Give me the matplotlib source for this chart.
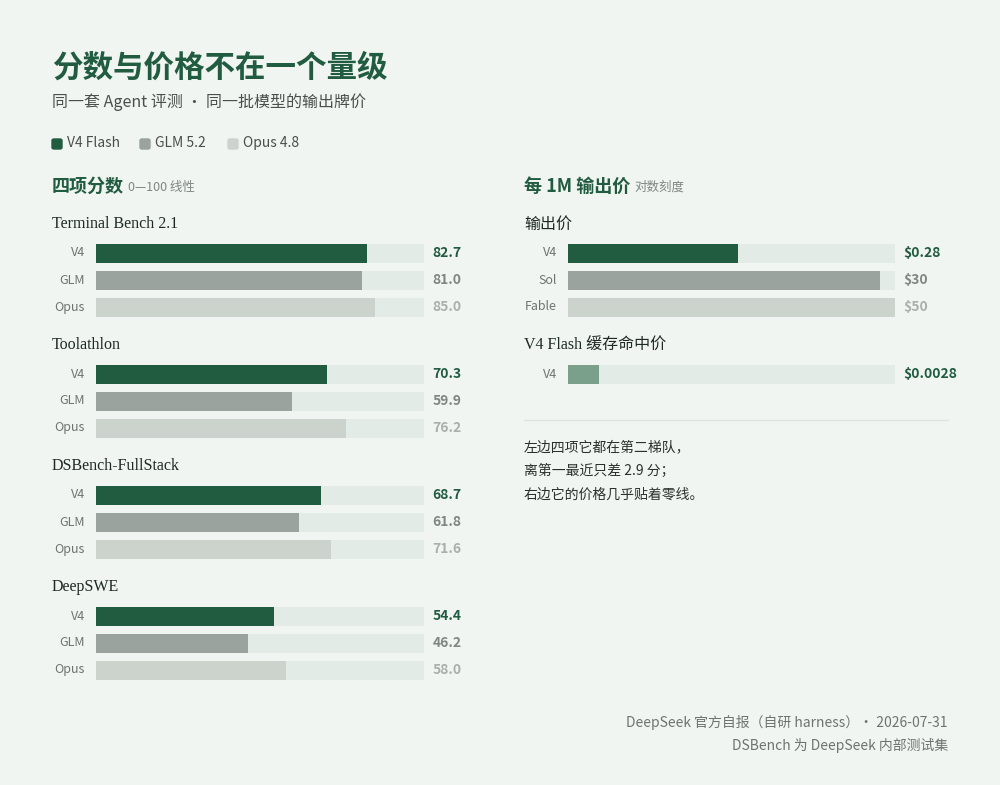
import matplotlib
matplotlib.use("Agg")
import matplotlib.pyplot as plt
import matplotlib.transforms as mtransforms
from matplotlib.patches import FancyBboxPatch

plt.rcParams['font.family'] = ['Noto Sans CJK SC', 'DejaVu Sans']

groups = ["Terminal Bench 2.1", "Toolathlon", "DSBench-FullStack", "DeepSWE"]
models = ["V4", "GLM", "Opus"]
scores = {
    "V4": [82.7, 70.3, 68.7, 54.4],
    "GLM": [81.0, 59.9, 61.8, 46.2],
    "Opus": [85.0, 76.2, 71.6, 58.0],
}
legend_names = ["V4 Flash", "GLM 5.2", "Opus 4.8"]
price_labels = ["V4", "Sol", "Fable"]
prices = [0.28, 30, 50]
price_text = ["$0.28", "$30", "$50"]
cache_label = ["V4"]
cache_price = [0.0028]
cache_text = ["$0.0028"]

BG = "#f1f5f1"
DARK = "#215c41"
GRAY = "#9aa39d"
LIGHT = "#cbd3cc"
TRACK = "#e2ebe5"
CACHE = "#7a9f8a"
colors = [DARK, GRAY, LIGHT]
valcolors = [DARK, "#7f8782", "#a9b0ab"]
SERIF = ['Liberation Serif', 'Noto Sans CJK SC']

W, H = 1000, 785
fig = plt.figure(figsize=(10, 7.85), dpi=100, facecolor=BG)

def fx(px): return px / W
def fy(py): return 1 - py / H

fig.text(fx(52), fy(68), "分数与价格不在一个量级", fontsize=22, fontweight='bold', color=DARK, va='center')
fig.text(fx(52), fy(102), "同一套 Agent 评测 · 同一批模型的输出牌价", fontsize=11.5, color="#4a4f4c", va='center')
lx = 52
for name, c, w in zip(legend_names, colors, [88, 88, 90]):
    fig.patches.append(FancyBboxPatch((fx(lx), fy(149)), fx(10), 10 / H, boxstyle="round,pad=0,rounding_size=0.002",
                                      transform=fig.transFigure, color=c))
    fig.text(fx(lx + 15), fy(143), name, fontsize=10, color="#4a4f4c", va='center')
    lx += w

fig.text(fx(52), fy(186), "四项分数", fontsize=13, fontweight='bold', color=DARK, va='center')
fig.text(fx(128), fy(187), "0—100 线性", fontsize=9, color="#7f8782", va='center')
fig.text(fx(524), fy(186), "每 1M 输出价", fontsize=13, fontweight='bold', color=DARK, va='center')
fig.text(fx(634), fy(187), "对数刻度", fontsize=9, color="#7f8782", va='center')

# left panel
axL = fig.add_axes([fx(96), fy(685), fx(328), (685 - 215) / H])
axL.set_xlim(0, 100); axL.set_ylim(685, 215); axL.axis('off')
trL = mtransforms.blended_transform_factory(fig.transFigure, axL.transData)
for gi, g in enumerate(groups):
    base = 253 + gi * 121
    axL.text(fx(52), base - 29, g, transform=trL, fontsize=11.5, family=SERIF, color="#1e2a23", va='center', ha='left')
    for mi, m in enumerate(models):
        y = base + mi * 27
        axL.barh(y, 100, height=19, color=TRACK, edgecolor='none')
        axL.barh(y, scores[m][gi], height=19, color=colors[mi], edgecolor='none')
        axL.annotate(m, (0, y), xytext=(-8, 0), textcoords='offset points', ha='right', va='center', fontsize=9, color="#6d746f")
        axL.annotate(f"{scores[m][gi]:.1f}", (100, y), xytext=(6, 0), textcoords='offset points', ha='left', va='center',
                     fontsize=10, fontweight='bold', color=valcolors[mi])

# right panel (log)
axR = fig.add_axes([fx(568), fy(685), fx(327), (685 - 215) / H])
axR.set_xscale('log'); axR.set_xlim(0.001, 50); axR.set_ylim(685, 215); axR.axis('off')
trR = mtransforms.blended_transform_factory(fig.transFigure, axR.transData)
axR.text(fx(524), 224, "输出价", transform=trR, fontsize=11.5, color="#1e2a23", va='center', ha='left')
for i, (lab, p, t) in enumerate(zip(price_labels, prices, price_text)):
    y = 253 + i * 27
    axR.barh(y, 50 - 0.001, left=0.001, height=19, color=TRACK, edgecolor='none')
    axR.barh(y, p - 0.001, left=0.001, height=19, color=colors[i], edgecolor='none')
    axR.annotate(lab, (0.001, y), xytext=(-8, 0), textcoords='offset points', ha='right', va='center', fontsize=9, color="#6d746f")
    axR.annotate(t, (50, y), xytext=(6, 0), textcoords='offset points', ha='left', va='center', fontsize=10,
                 fontweight='bold', color=valcolors[i])
axR.text(fx(524), 345, "V4 Flash 缓存命中价", transform=trR, fontsize=11.5, family=SERIF, color="#1e2a23", va='center', ha='left')
for lab, p, t in zip(cache_label, cache_price, cache_text):
    y = 374
    axR.barh(y, 50 - 0.001, left=0.001, height=19, color=TRACK, edgecolor='none')
    axR.barh(y, p - 0.001, left=0.001, height=19, color=CACHE, edgecolor='none')
    axR.annotate(lab, (0.001, y), xytext=(-8, 0), textcoords='offset points', ha='right', va='center', fontsize=9, color="#6d746f")
    axR.annotate(t, (50, y), xytext=(6, 0), textcoords='offset points', ha='left', va='center', fontsize=10,
                 fontweight='bold', color=DARK)

fig.add_artist(plt.Line2D([fx(524), fx(948)], [fy(420), fy(420)], color="#dde3de", lw=1))
for i, line in enumerate(["左边四项它都在第二梯队，", "离第一最近只差 2.9 分；", "右边它的价格几乎贴着零线。"]):
    fig.text(fx(524), fy(447 + i * 24), line, fontsize=10, color="#2b302d", va='center')

fig.text(fx(948), fy(722), "DeepSeek 官方自报（自研 harness）· 2026-07-31", fontsize=10, color="#6d746f", ha='right', va='center')
fig.text(fx(948), fy(745), "DSBench 为 DeepSeek 内部测试集", fontsize=10, color="#6d746f", ha='right', va='center')

fig.savefig("out.png", dpi=100, facecolor=BG)
